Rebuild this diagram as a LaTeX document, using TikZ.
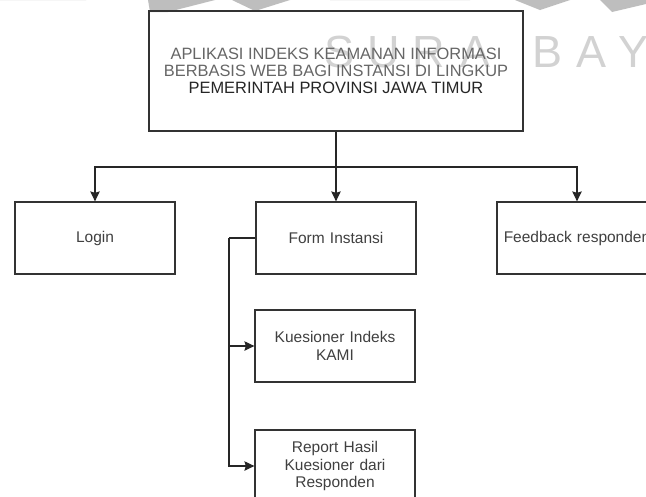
\documentclass[tikz,border=0pt]{standalone}
\usepackage{fontspec}
\setmainfont{Liberation Sans}
\usetikzlibrary{arrows.meta}
\definecolor{edge}{HTML}{333333}
\definecolor{labelink}{HTML}{404040}
\definecolor{titlegray}{HTML}{666666}
\definecolor{wmark}{HTML}{D2D2D2}
\definecolor{wmshape}{HTML}{BEBEBE}
\tikzset{
  x=1pt, y=-1pt,
  box/.style={draw=edge, line width=1.3pt, minimum width=160pt, minimum height=72pt,
    align=center, text width=150pt, font=\fontsize{15.5}{17.5}\selectfont, text=labelink, inner sep=0pt},
  titlebox/.style={draw=edge, line width=1.3pt, minimum width=374pt, minimum height=120pt,
    align=center, font=\fontsize{16.4}{17}\selectfont, inner sep=0pt},
  link/.style={draw=black!85, line width=1.1pt},
  arrowlink/.style={link, -{Stealth[length=10pt,width=9.5pt,inset=1.5pt]}},
  wm/.style={text=wmark, font=\fontsize{45}{45}\selectfont, inner sep=0pt, anchor=base}
}
\begin{document}
\begin{tikzpicture}
\useasboundingbox (0,0) rectangle (646,496);
\fill[white] (0,0) rectangle (646,496);

% logo fragments along the top edge
\fill[wmshape] (0,0) -- (86,0) arc[start angle=0, end angle=-180, x radius=43, y radius=14] -- cycle;
\fill[wmshape] (148,0) -- (215,0) -- (168,12) -- (150,12) -- cycle;
\fill[wmshape] (232,0) -- (290,0) -- (255,11) -- cycle;
\fill[wmshape] (330,0) -- (470,0) arc[start angle=0, end angle=-180, x radius=70, y radius=12] -- cycle;
\fill[wmshape] (515,0) -- (570,0) -- (540,10) -- cycle;
\fill[wmshape] (600,0) -- (646,0) -- (646,4) -- (612,12) -- cycle;

% watermark lettering behind the chart
\node[wm] (w1) at (340,67) {S};
\node[wm] (w2) at (384,67) {U};
\node[wm] (w3) at (429,67) {R};
\node[wm] (w4) at (476,67) {A};
\node[wm] (w5) at (548,67) {B};
\node[wm] (w6) at (592,67) {A};
\node[wm] (w7) at (634,67) {Y};

% top title box
\node[titlebox] (top) at (336,71) {%
  \textcolor{titlegray}{APLIKASI INDEKS KEAMANAN INFORMASI}\\
  \textcolor{titlegray}{BERBASIS WEB BAGI INSTANSI DI LINGKUP}\\
  \textcolor{black!85}{PEMERINTAH PROVINSI JAWA TIMUR}};

% second level
\node[box] (login) at (95,238) {Login};
\node[box] (form) at (336,238) {Form Instansi};
\node[box] (feedback) at (577,238) {Feedback responden};

% children of the form
\node[box] (kues) at (335,346) {Kuesioner Indeks\\KAMI};
\node[box] (report) at (335,466) {Report Hasil\\Kuesioner dari\\Responden};

% connectors
\coordinate (bus) at (336,167);
\draw[link] (top.south) -- (bus);
\draw[arrowlink] (bus) -| (login.north);
\draw[arrowlink] (bus) -- (form.north);
\draw[arrowlink] (bus) -| (feedback.north);

\coordinate (spine) at (229,238);
\draw[link] (form.west) -- (spine);
\draw[arrowlink] (spine) |- (kues.west);
\draw[arrowlink] (spine) |- (report.west);
\end{tikzpicture}
\end{document}
